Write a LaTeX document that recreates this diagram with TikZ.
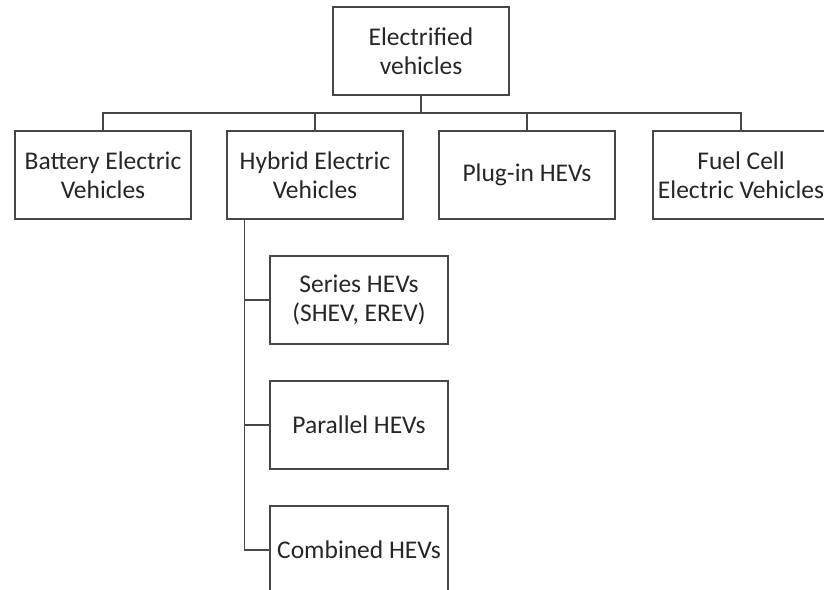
\documentclass[tikz,border=0pt]{standalone}
\usepackage{fontspec}
\setmainfont{Carlito}
\begin{document}
\begin{tikzpicture}[x=1pt,y=-1pt,
  box/.style={draw=black!72,line width=1.3pt,rectangle,minimum width=176pt,minimum height=88pt,
    align=center,text=black!85,inner sep=0pt,font=\fontsize{25.5}{28.5}\selectfont},
  wire/.style={draw=black!72,line width=1.3pt}]
\useasboundingbox (0,0) rectangle (824,589);
\node[box] (ev) at (421,51) {Electrified\\vehicles};
\node[box] (bev) at (103,175) {Battery Electric\\Vehicles};
\node[box] (hev) at (315,175) {Hybrid Electric\\Vehicles};
\node[box] (phev) at (527,175) {Plug-in HEVs};
\node[box] (fcev) at (741,175) {Fuel Cell\\Electric Vehicles};
\node[box,minimum width=178pt] (ser) at (359,300) {Series HEVs\\(SHEV, EREV)};
\node[box,minimum width=178pt] (par) at (359,425) {Parallel HEVs};
\node[box,minimum width=178pt] (com) at (359,550) {Combined HEVs};
\coordinate (bar) at (421,113);
\coordinate (hv) at ([xshift=18pt]hev.south west);
\draw[wire] (ev.south) -- (bar);
\draw[wire] (bev.north) -- (bev.north |- bar) -- (fcev.north |- bar) -- (fcev.north);
\draw[wire] (hev.north) -- (hev.north |- bar);
\draw[wire] (phev.north) -- (phev.north |- bar);
\draw[wire] (hv) |- (com.west);
\draw[wire] (hv |- ser.west) -- (ser.west);
\draw[wire] (hv |- par.west) -- (par.west);
\end{tikzpicture}
\end{document}
